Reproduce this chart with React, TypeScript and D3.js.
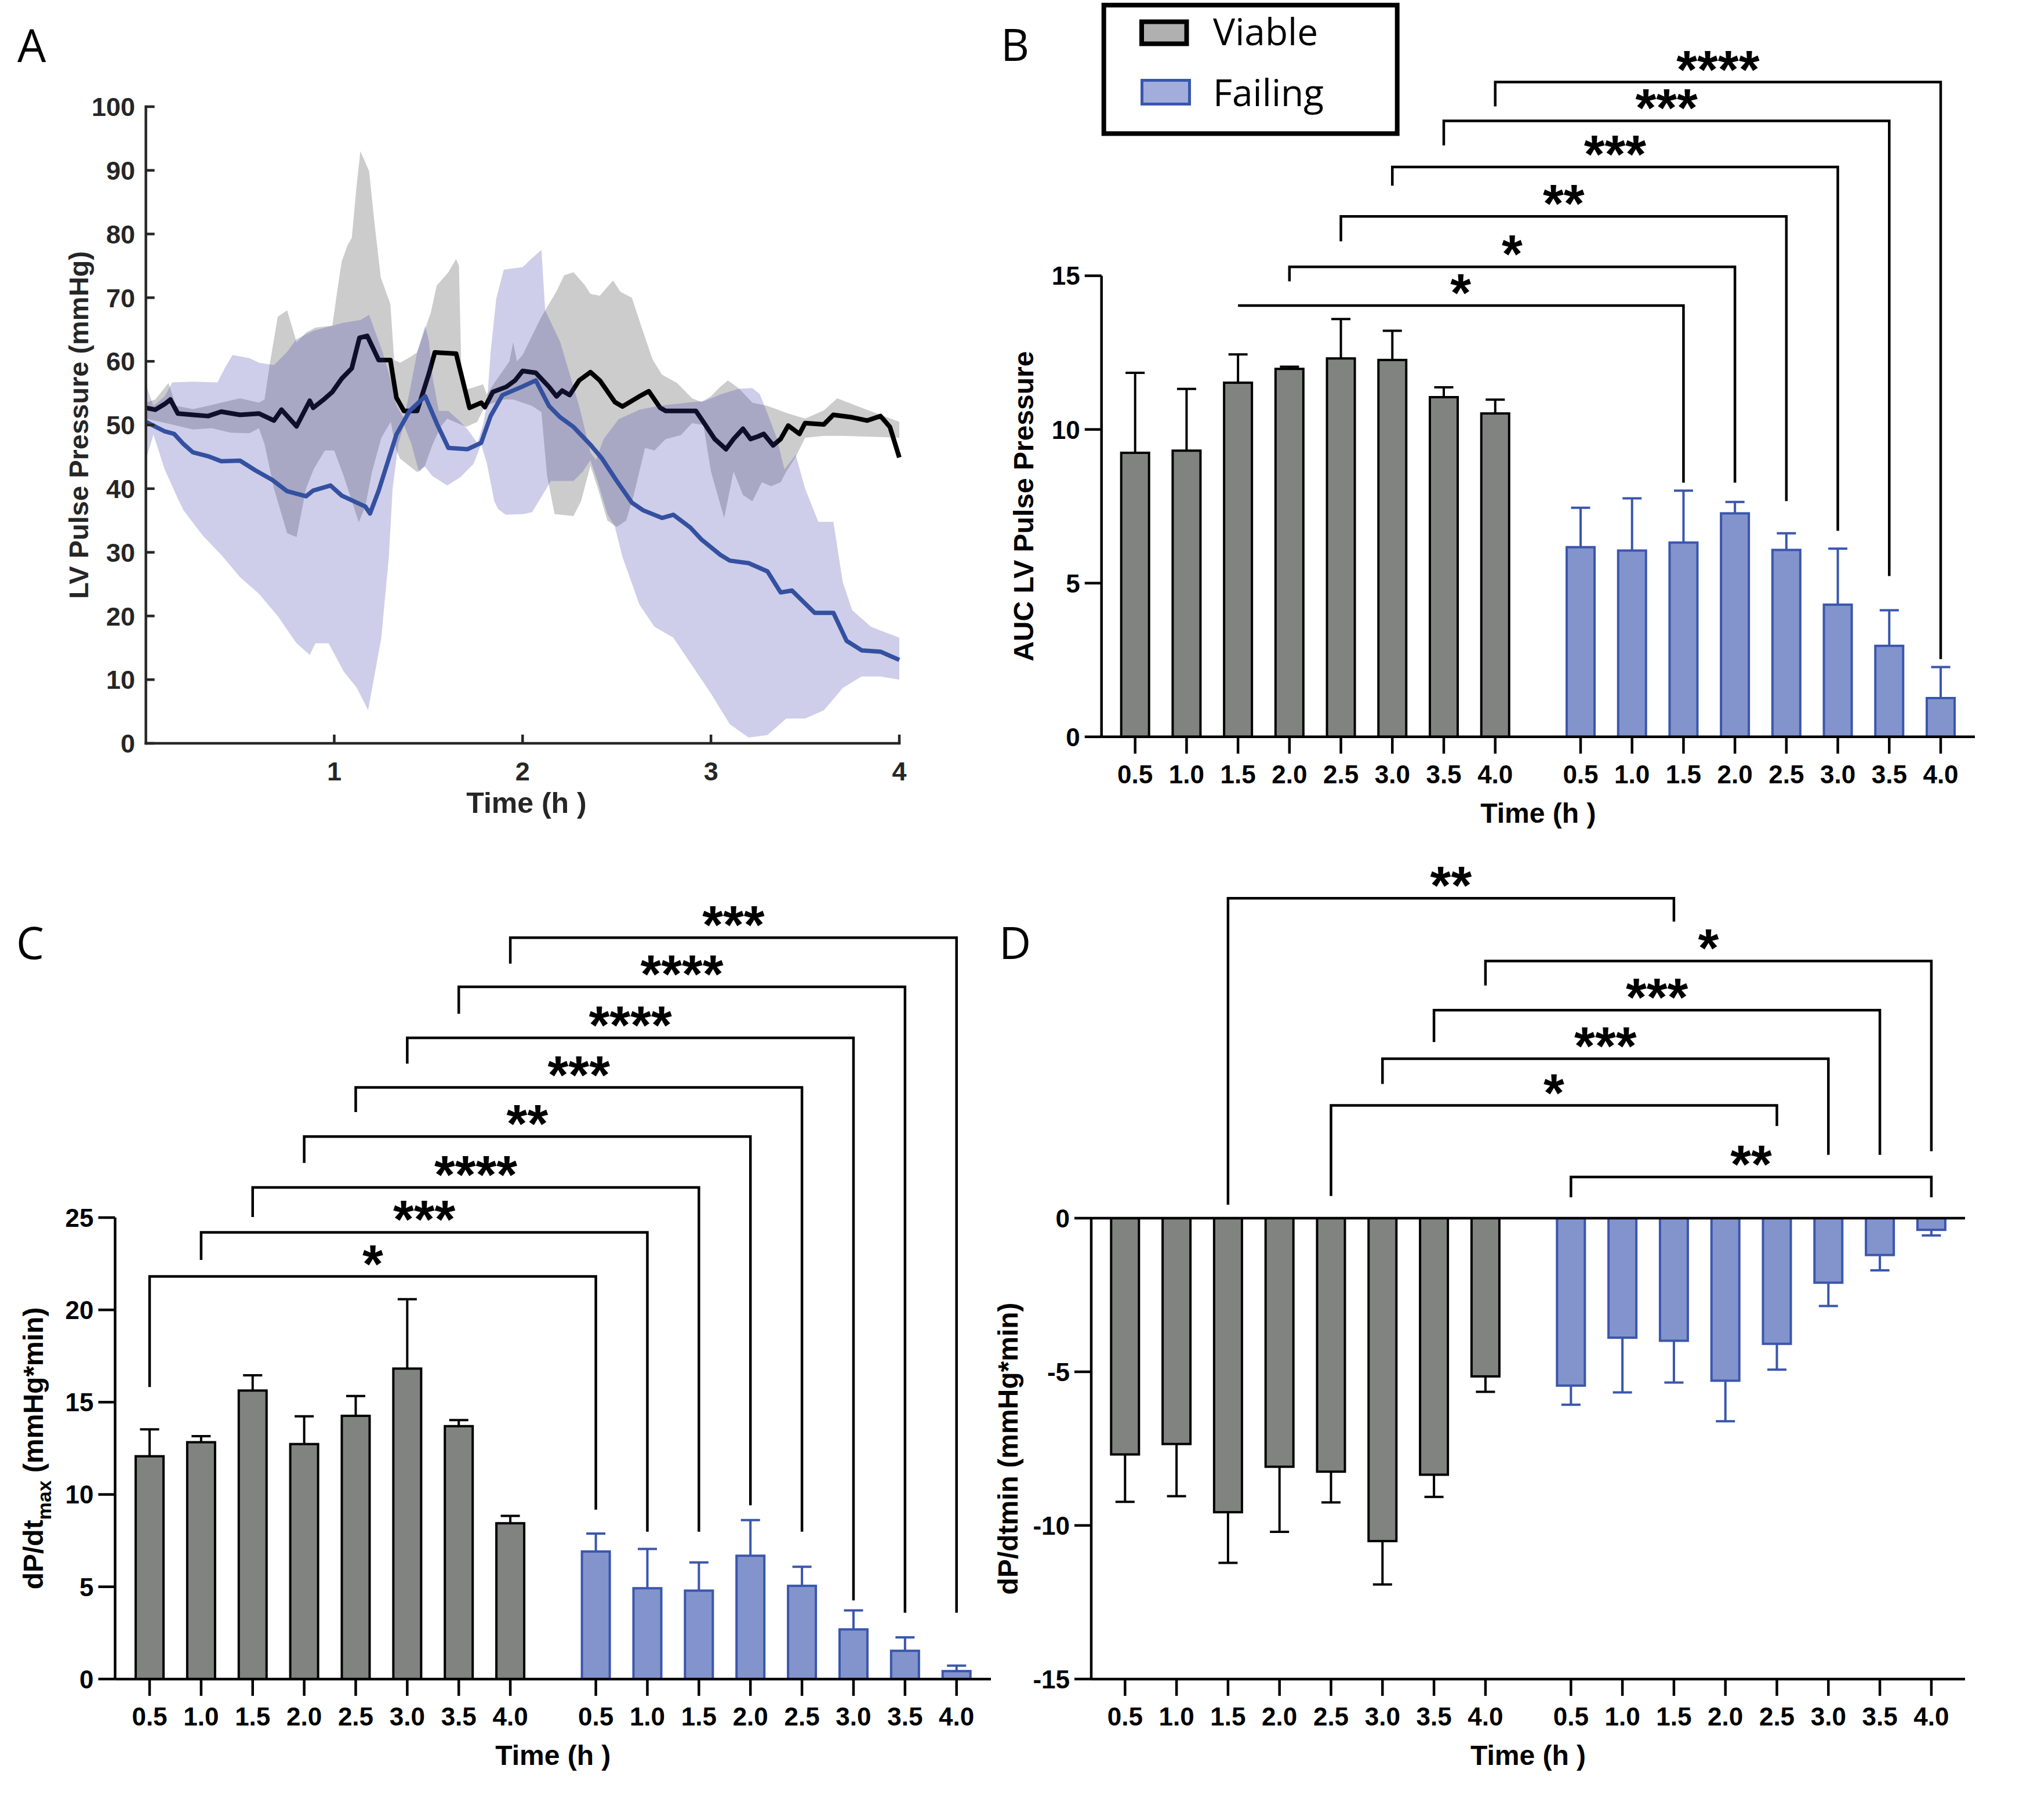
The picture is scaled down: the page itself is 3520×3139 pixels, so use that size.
import React from "react";
import * as d3 from "d3";

const W = 3520;
const H = 3139;
const BOLD = "'Liberation Sans', Arial, Helvetica, sans-serif";
const NARROW = "'Liberation Sans Narrow', 'Arial Narrow', 'Liberation Sans', sans-serif";
const THIN = "'Open Sans', 'Noto Sans', sans-serif";
const AX = "#262626";
const BLUE_STROKE = "#3a56ad";
const BLUE_FILL = "#8394cc";
const GREY_FILL = "#818381";

// ---------- Panel A data: [time (h), LV pulse pressure (mmHg)] ----------
const viableMean: number[][] = [
  [0, 52.7], [0.05, 52.4], [0.1, 53.3], [0.13, 54], [0.17, 51.8], [0.25, 51.6], [0.33, 51.4], [0.4, 52.1],
  [0.5, 51.6], [0.6, 51.8], [0.68, 50.7], [0.72, 52.4], [0.8, 49.8], [0.87, 53.8], [0.888, 52.7], [0.94, 53.9],
  [0.99, 55.2], [1.04, 57.3], [1.093, 58.9], [1.134, 63.7], [1.175, 64], [1.236, 60.2], [1.298, 60.2], [1.33, 54.3],
  [1.37, 52.2], [1.44, 52.2], [1.503, 58.1], [1.534, 61.4], [1.647, 61.2], [1.718, 52.7], [1.78, 53.5], [1.8, 52.8],
  [1.842, 55.2], [1.914, 56], [1.96, 57], [2.0, 58.5], [2.07, 58.2], [2.14, 56], [2.18, 54.5], [2.21, 55.4],
  [2.25, 54.7], [2.3, 57], [2.36, 58.3], [2.41, 57], [2.49, 53.6], [2.53, 52.9], [2.62, 54.5], [2.67, 55.3],
  [2.73, 52.7], [2.76, 52.2], [2.92, 52.2], [2.95, 50.9], [3.02, 47.8], [3.08, 46.2], [3.12, 47.8], [3.17, 49.4],
  [3.21, 47.8], [3.25, 48.2], [3.28, 48.6], [3.33, 46.8], [3.37, 47.8], [3.41, 49.9], [3.47, 48.6], [3.5, 50.3],
  [3.6, 50.1], [3.65, 51.6], [3.75, 51.2], [3.83, 50.7], [3.9, 51.4], [3.95, 49.7], [4.0, 44.9],
];
const viableUpper: number[][] = [
  [0, 53.5], [0.05, 54], [0.12, 56.6], [0.16, 53], [0.25, 52.5], [0.33, 53], [0.4, 53.5], [0.5, 54.2],
  [0.6, 53.5], [0.63, 54], [0.66, 60], [0.7, 67], [0.75, 68], [0.8, 63], [0.85, 64.5], [0.9, 65.3],
  [0.99, 65.6], [1.02, 71.9], [1.04, 75.7], [1.07, 78.2], [1.093, 79.4], [1.12, 88], [1.139, 93], [1.185, 89.9],
  [1.216, 81.1], [1.247, 73.2], [1.298, 69], [1.318, 60.2], [1.35, 59.8], [1.4, 60.6], [1.44, 61.4], [1.513, 67.7],
  [1.544, 71.9], [1.606, 74], [1.647, 76.1], [1.662, 75], [1.677, 56], [1.708, 55.6], [1.79, 56.4], [1.81, 54.8],
  [1.85, 56.6], [1.93, 60], [1.95, 63], [1.97, 60], [2.0, 61], [2.05, 64], [2.1, 67], [2.13, 68.5],
  [2.18, 71], [2.22, 73.5], [2.27, 74], [2.33, 72], [2.36, 70.6], [2.41, 70.3], [2.48, 72.7], [2.52, 70.9],
  [2.58, 70], [2.63, 65.5], [2.69, 60.3], [2.74, 57.9], [2.82, 56.6], [2.9, 54.2], [2.95, 53.6], [3.0, 54.5],
  [3.05, 56], [3.09, 57], [3.15, 55.7], [3.22, 53.5], [3.3, 53], [3.41, 51.8], [3.5, 51], [3.6, 52.3],
  [3.67, 54.2], [3.8, 52.7], [4.0, 50.5],
];
const viableLower: number[][] = [
  [0, 51], [0.15, 50], [0.25, 49.3], [0.35, 49.5], [0.45, 48.8], [0.55, 48.7], [0.6, 49.5], [0.63, 47],
  [0.68, 40], [0.75, 33], [0.8, 32.4], [0.85, 40], [0.89, 43], [0.95, 46], [1.0, 46], [1.05, 42],
  [1.09, 38.4], [1.13, 34.7], [1.165, 37.2], [1.2, 42.6], [1.25, 48], [1.3, 50.5], [1.33, 46], [1.35, 44.7],
  [1.44, 42.6], [1.48, 43.5], [1.52, 46.8], [1.565, 49.7], [1.6, 51], [1.7, 49.7], [1.76, 50.5], [1.8, 53],
  [1.9, 54], [1.95, 54], [2.05, 53], [2.1, 52], [2.13, 42], [2.17, 36], [2.27, 35.7], [2.31, 38],
  [2.36, 43.6], [2.4, 40], [2.45, 35], [2.5, 34], [2.55, 35], [2.59, 39], [2.65, 46.4], [2.7, 46],
  [2.76, 47.8], [2.84, 48.4], [2.9, 50.3], [2.96, 50], [3.0, 42.7], [3.07, 35.4], [3.12, 42.7], [3.17, 39],
  [3.22, 38], [3.27, 41], [3.32, 40.4], [3.37, 41], [3.4, 42.7], [3.45, 45], [3.5, 48], [3.6, 48.3],
  [3.7, 48.3], [4.0, 48],
];
const failingMean: number[][] = [
  [0, 50.5], [0.1, 49], [0.15, 48.6], [0.2, 47], [0.25, 45.7], [0.33, 45.1], [0.4, 44.3], [0.5, 44.4],
  [0.58, 42.9], [0.67, 41.4], [0.75, 39.6], [0.85, 38.8], [0.888, 39.7], [0.98, 40.5], [1.04, 38.9], [1.165, 37.2],
  [1.19, 36.1], [1.236, 39.7], [1.33, 48.5], [1.4, 52.2], [1.483, 54.5], [1.545, 50.2], [1.606, 46.4], [1.708, 46.2],
  [1.78, 47.2], [1.83, 51.4], [1.893, 54.7], [1.996, 56], [2.07, 57], [2.14, 53], [2.2, 51.2], [2.27, 49.7],
  [2.36, 46.9], [2.42, 44.8], [2.5, 41.2], [2.58, 37.8], [2.64, 36.6], [2.74, 35.4], [2.8, 35.9], [2.89, 33.9],
  [2.95, 32], [3.05, 29.6], [3.1, 28.7], [3.2, 28.3], [3.3, 27], [3.37, 23.7], [3.43, 24], [3.55, 20.5],
  [3.65, 20.5], [3.72, 16.1], [3.8, 14.6], [3.9, 14.4], [4.0, 13.1],
];
const failingUpper: number[][] = [
  [0, 56.4], [0.04, 53], [0.1, 54.5], [0.14, 56.7], [0.25, 56.8], [0.38, 56.7], [0.42, 59], [0.46, 61],
  [0.55, 60.5], [0.6, 59.8], [0.68, 59.4], [0.75, 61.5], [0.8, 63.5], [0.89, 64.8], [0.99, 65.6], [1.04, 66],
  [1.14, 66.5], [1.185, 67.3], [1.216, 64.8], [1.257, 61.4], [1.298, 57.3], [1.33, 53.1], [1.37, 51], [1.4, 55.2],
  [1.44, 61.4], [1.483, 65.6], [1.503, 63.1], [1.523, 57.3], [1.555, 52.2], [1.606, 52.2], [1.667, 50.6], [1.708, 49.3],
  [1.76, 47.2], [1.79, 50], [1.81, 53.1], [1.83, 61.4], [1.86, 69.8], [1.9, 74.4], [2.0, 74.8], [2.05, 76.2],
  [2.1, 77.5], [2.12, 68], [2.2, 63], [2.3, 53], [2.36, 45.7], [2.39, 44.5], [2.43, 47.8], [2.51, 50.9],
  [2.62, 52.4], [2.72, 53], [2.9, 53.6], [2.97, 53.8], [3.05, 54.8], [3.15, 55.7], [3.22, 55.8], [3.26, 54.8],
  [3.3, 51.8], [3.35, 47.9], [3.39, 43], [3.45, 45.3], [3.5, 40], [3.57, 34.8], [3.65, 34.8], [3.7, 25.3],
  [3.75, 20.9], [3.85, 18.3], [4.0, 16.6],
];
const failingLower: number[][] = [
  [0, 44.5], [0.04, 48.5], [0.1, 43], [0.17, 38.4], [0.2, 36.6], [0.3, 32.7], [0.4, 29.6], [0.5, 26.1],
  [0.6, 23.5], [0.7, 20], [0.8, 15.7], [0.87, 13.9], [0.9, 15.7], [0.97, 15.7], [1.05, 11.3], [1.12, 8.7],
  [1.18, 5.2], [1.25, 16.6], [1.29, 29.3], [1.31, 40], [1.34, 47], [1.37, 50], [1.41, 47], [1.45, 42.6],
  [1.48, 43.5], [1.52, 42], [1.6, 40.5], [1.67, 41.8], [1.74, 43.9], [1.78, 47], [1.81, 44], [1.85, 38],
  [1.87, 36.8], [1.91, 35.9], [2.0, 36], [2.05, 36.3], [2.1, 38.7], [2.15, 41.2], [2.27, 41.2], [2.32, 42.7],
  [2.36, 44.5], [2.4, 41], [2.45, 36], [2.49, 34], [2.53, 29.3], [2.62, 21.8], [2.7, 18.3], [2.8, 16.6],
  [2.9, 12.2], [3.0, 7.8], [3.1, 3], [3.2, 0.9], [3.3, 1.3], [3.4, 3.9], [3.5, 3.9], [3.6, 5.2],
  [3.7, 8.7], [3.8, 10.5], [3.9, 10.5], [4.0, 10],
];
const aYTicks = [0, 10, 20, 30, 40, 50, 60, 70, 80, 90, 100];
const aXTicks = [1, 2, 3, 4];

// ---------- Bar panels ----------
const timeLabels = ["0.5", "1.0", "1.5", "2.0", "2.5", "3.0", "3.5", "4.0"];

const aucViable = [9.24, 9.31, 11.52, 11.97, 12.31, 12.26, 11.05, 10.52];
const aucViableErr = [2.6, 2.01, 0.92, 0.07, 1.28, 0.95, 0.32, 0.45];
const aucFailing = [6.17, 6.06, 6.32, 7.27, 6.08, 4.3, 2.96, 1.26];
const aucFailingErr = [1.28, 1.7, 1.69, 0.37, 0.54, 1.82, 1.16, 1.01];
const aucTicks = [0, 5, 10, 15];

const dpMaxViable = [12.07, 12.83, 15.63, 12.73, 14.26, 16.82, 13.7, 8.44];
const dpMaxViableErr = [1.46, 0.33, 0.83, 1.5, 1.07, 3.76, 0.33, 0.4];
const dpMaxFailing = [6.91, 4.92, 4.79, 6.68, 5.05, 2.69, 1.53, 0.43];
const dpMaxFailingErr = [0.97, 2.13, 1.53, 1.93, 1.03, 1.03, 0.73, 0.3];
const dpMaxTicks = [0, 5, 10, 15, 20, 25];

const dpMinViable = [-7.69, -7.35, -9.57, -8.09, -8.25, -10.51, -8.35, -5.15];
const dpMinViableErr = [1.54, 1.7, 1.65, 2.12, 1.0, 1.41, 0.72, 0.5];
const dpMinFailing = [-5.45, -3.89, -3.99, -5.29, -4.09, -2.1, -1.2, -0.38];
const dpMinFailingErr = [0.62, 1.78, 1.36, 1.32, 0.84, 0.76, 0.5, 0.18];
const dpMinTicks = [0, -5, -10, -15];

// brackets: [fromGroup, fromIdx, toGroup, toIdx, lineY, leftLegEnd (null = none), rightLegEnd, label]
type Bracket = [number, number, number, number, number, number | null, number, string];
const aucBrackets: Bracket[] = [
  [0, 2, 1, 2, 14.03, null, 8.27, "*"],
  [0, 3, 1, 3, 15.29, 14.82, 8.27, "*"],
  [0, 4, 1, 4, 16.93, 16.12, 7.67, "**"],
  [0, 5, 1, 5, 18.54, 17.93, 6.7, "***"],
  [0, 6, 1, 6, 20.04, 19.24, 5.23, "***"],
  [0, 7, 1, 7, 21.3, 20.51, 2.53, "****"],
];
const dpMaxBrackets: Bracket[] = [
  [0, 0, 1, 0, 21.81, 15.82, 9.18, "*"],
  [0, 1, 1, 1, 24.2, 22.71, 7.98, "***"],
  [0, 2, 1, 2, 26.63, 25.03, 7.98, "****"],
  [0, 3, 1, 3, 29.39, 27.96, 9.41, "**"],
  [0, 4, 1, 4, 32.05, 30.72, 7.98, "***"],
  [0, 5, 1, 5, 34.74, 33.34, 4.26, "****"],
  [0, 6, 1, 6, 37.5, 36.04, 3.59, "****"],
  [0, 7, 1, 7, 40.16, 38.76, 3.59, "***"],
];
const dpMinBrackets: Bracket[] = [
  [0, 2, 1, 2, 10.41, 0.44, 9.65, "**"],
  [0, 7, 1, 7, 8.37, 7.57, 2.18, "*"],
  [0, 6, 1, 6, 6.77, 5.73, 2.06, "***"],
  [0, 5, 1, 5, 5.19, 4.37, 2.06, "***"],
  [0, 4, 1, 4, 3.67, 0.72, 3.0, "*"],
  [1, 0, 1, 7, 1.34, 0.68, 0.68, "**"],
];

const GROUP_OFFSET = 8.66; // failing group starts 1.66 slots after the last viable bar

function PanelA() {
  const x = d3.scaleLinear().domain([0, 4]).range([251.6, 1551]);
  const y = d3.scaleLinear().domain([0, 100]).range([1282, 184]);
  const line = d3.line<number[]>().x((d) => x(d[0])).y((d) => y(d[1]));
  const band = (up: number[][], lo: number[][]) => line([...up, ...lo.slice().reverse()]) + "Z";
  const x0 = x(0), y0 = y(0);
  return (
    <g>
      <text x={30} y={107} fontFamily={THIN} fontSize={78} fill="#000">A</text>
      <path d={band(viableUpper, viableLower)} fill="#cccccc" stroke="none" />
      <path d={line(viableMean) || ""} fill="none" stroke="#000" strokeWidth={8} strokeLinejoin="round" />
      <path d={band(failingUpper, failingLower)} fill="rgb(60,58,170)" fillOpacity={0.25} stroke="none" />
      <path d={line(failingMean) || ""} fill="none" stroke="#3450a0" strokeWidth={7.5} strokeLinejoin="round" />
      <line x1={x0} x2={x0} y1={y(100)} y2={y0} stroke={AX} strokeWidth={4.5} strokeLinecap="square" />
      <line x1={x0} x2={x(4)} y1={y0} y2={y0} stroke={AX} strokeWidth={4.5} strokeLinecap="square" />
      {aYTicks.map((t) => (
        <g key={"ay" + t}>
          <line x1={x0} x2={x0 + 15} y1={y(t)} y2={y(t)} stroke={AX} strokeWidth={4.5} />
          <text x={233} y={y(t)} dy="0.36em" textAnchor="end" fontFamily={NARROW} fontWeight="bold" fontSize={45} fill={AX}>{t}</text>
        </g>
      ))}
      {aXTicks.map((t) => (
        <g key={"ax" + t}>
          <line x1={x(t)} x2={x(t)} y1={y0} y2={y0 - 15} stroke={AX} strokeWidth={4.5} />
          <text x={x(t)} y={1346} textAnchor="middle" fontFamily={NARROW} fontWeight="bold" fontSize={45} fill={AX}>{t}</text>
        </g>
      ))}
      <text x={908} y={1402} textAnchor="middle" fontFamily={NARROW} fontWeight="bold" fontSize={50} fill={AX}>Time (h  )</text>
      <text transform={`translate(152,${(y(0) + y(100)) / 2}) rotate(-90)`} textAnchor="middle" fontFamily={BOLD} fontWeight="bold" fontSize={47} fill={AX}>LV Pulse Pressure (mmHg)</text>
    </g>
  );
}

type BarProps = {
  domain: [number, number];
  range: [number, number];
  first: number;
  last: number;
  axisX: number;
  axisRight: number;
  viable: number[];
  viableErr: number[];
  failing: number[];
  failingErr: number[];
  ticks: number[];
  brackets: Bracket[];
  yLabel: React.ReactNode;
  yLabelX: number;
  panel: string;
  panelX: number;
  panelY: number;
};

function BarPanel(p: BarProps) {
  const y = d3.scaleLinear().domain(p.domain).range(p.range);
  const xi = d3.scaleLinear().domain([0, 7 + GROUP_OFFSET]).range([p.first, p.last]);
  const cx = (g: number, i: number) => xi(g === 0 ? i : i + GROUP_OFFSET);
  const bottomY = y(p.domain[0]);
  const topY = y(p.domain[1]);
  const zeroY = y(0);
  const barW = 48;
  const capW = 33;
  const groups = [
    { vals: p.viable, err: p.viableErr, fill: GREY_FILL, stroke: "#000" },
    { vals: p.failing, err: p.failingErr, fill: BLUE_FILL, stroke: BLUE_STROKE },
  ];
  return (
    <g>
      <text x={p.panelX} y={p.panelY} fontFamily={THIN} fontSize={76} fill="#000">{p.panel}</text>
      {groups.map((g, gi) =>
        g.vals.map((v, i) => {
          const c = cx(gi, i);
          const yv = y(v);
          const ye = y(v >= 0 ? v + g.err[i] : v - g.err[i]);
          return (
            <g key={`b${gi}-${i}`}>
              <line x1={c} x2={c} y1={yv} y2={ye} stroke={g.stroke} strokeWidth={4} />
              <line x1={c - capW / 2} x2={c + capW / 2} y1={ye} y2={ye} stroke={g.stroke} strokeWidth={4} />
              <rect x={c - barW / 2} y={Math.min(yv, zeroY)} width={barW} height={Math.abs(zeroY - yv)} fill={g.fill} stroke={g.stroke} strokeWidth={4} />
            </g>
          );
        })
      )}
      <line x1={p.axisX} x2={p.axisX} y1={topY} y2={bottomY} stroke="#000" strokeWidth={4.5} />
      <line x1={p.axisX} x2={p.axisRight} y1={bottomY} y2={bottomY} stroke="#000" strokeWidth={4.5} />
      {p.domain[0] < 0 && (
        <line x1={p.axisX} x2={p.axisRight} y1={zeroY} y2={zeroY} stroke="#000" strokeWidth={4.5} />
      )}
      {p.ticks.map((t) => (
        <g key={"yt" + t}>
          <line x1={p.axisX - 29} x2={p.axisX} y1={y(t)} y2={y(t)} stroke="#000" strokeWidth={4.5} />
          <text x={p.axisX - 37} y={y(t)} dy="0.36em" textAnchor="end" fontFamily={BOLD} fontWeight="bold" fontSize={44} fill="#000">{t}</text>
        </g>
      ))}
      {[0, 1].map((g) =>
        timeLabels.map((lab, i) => (
          <g key={`xt${g}-${i}`}>
            <line x1={cx(g, i)} x2={cx(g, i)} y1={bottomY} y2={bottomY + 29} stroke="#000" strokeWidth={4.5} />
            <text x={cx(g, i)} y={bottomY + 80} textAnchor="middle" fontFamily={BOLD} fontWeight="bold" fontSize={44} fill="#000">{lab}</text>
          </g>
        ))
      )}
      <text x={(p.axisX + p.axisRight) / 2} y={bottomY + 148} textAnchor="middle" fontFamily={BOLD} fontWeight="bold" fontSize={48} fill="#000">Time (h )</text>
      <g transform={`translate(${p.yLabelX},${(topY + bottomY) / 2}) rotate(-90)`}>{p.yLabel}</g>
      {p.brackets.map((b, k) => {
        const xa = cx(b[0], b[1]);
        const xb = cx(b[2], b[3]);
        const yl = y(b[4]);
        const pts: [number, number][] = [];
        if (b[5] !== null) pts.push([xa, y(b[5])]);
        pts.push([xa, yl], [xb, yl], [xb, y(b[6])]);
        const path = d3.line()(pts) || "";
        return (
          <g key={"br" + k}>
            <path d={path} fill="none" stroke="#000" strokeWidth={4.5} />
            <text x={(xa + xb) / 2} y={yl + 10} textAnchor="middle" fontFamily={BOLD} fontWeight="bold" fontSize={92} fill="#000">{b[7]}</text>
          </g>
        );
      })}
    </g>
  );
}

function Legend() {
  return (
    <g>
      <rect x={1903.7} y={8.8} width={506} height={221.6} fill="#fff" stroke="#000" strokeWidth={8} />
      <rect x={1969} y={37.5} width={77.5} height={38} fill="#b0b0b0" stroke="#000" strokeWidth={8} />
      <rect x={1969.5} y={138.5} width={82} height={41} fill="#a2addb" stroke={BLUE_STROKE} strokeWidth={5} />
      <text x={2092} y={78} fontFamily={THIN} fontSize={64} fill="#000">Viable</text>
      <text x={2092} y={183} fontFamily={THIN} fontSize={64} fill="#000">Failing</text>
    </g>
  );
}

export default function App() {
  const labelStyle = { fontFamily: BOLD, fontWeight: "bold" as const, fontSize: 48, fill: "#000" };
  return (
    <svg width={W} height={H} viewBox={`0 0 ${W} ${H}`} style={{ position: "absolute", left: 0, top: 0, background: "#fff", display: "block" }}>
      <rect x={0} y={0} width={W} height={H} fill="#fff" />
      <PanelA />
      <BarPanel
        domain={[0, 15]} range={[1270.8, 475.6]} first={1957.7} last={3347} axisX={1899.7} axisRight={3406}
        viable={aucViable} viableErr={aucViableErr} failing={aucFailing} failingErr={aucFailingErr}
        ticks={aucTicks} brackets={aucBrackets}
        yLabel={<text textAnchor="middle" {...labelStyle}>AUC LV Pulse Pressure</text>}
        yLabelX={1782} panel="B" panelX={1726} panelY={105}
      />
      <BarPanel
        domain={[0, 25]} range={[2895.9, 2100]} first={258} last={1649.7} axisX={198.5} axisRight={1709}
        viable={dpMaxViable} viableErr={dpMaxViableErr} failing={dpMaxFailing} failingErr={dpMaxFailingErr}
        ticks={dpMaxTicks} brackets={dpMaxBrackets}
        yLabel={
          <text textAnchor="middle" {...labelStyle}>
            dP/dt<tspan fontSize={34} dy={14}>max</tspan><tspan dy={-14}> (mmHg*min)</tspan>
          </text>
        }
        yLabelX={74} panel="C" panelX={28} panelY={1654}
      />
      <BarPanel
        domain={[-15, 0]} range={[2895.9, 2101]} first={1940.3} last={3330.9} axisX={1882} axisRight={3389}
        viable={dpMinViable} viableErr={dpMinViableErr} failing={dpMinFailing} failingErr={dpMinFailingErr}
        ticks={dpMinTicks} brackets={dpMinBrackets}
        yLabel={<text textAnchor="middle" {...labelStyle}>dP/dtmin (mmHg*min)</text>}
        yLabelX={1755} panel="D" panelX={1723} panelY={1654}
      />
      <Legend />
    </svg>
  );
}
